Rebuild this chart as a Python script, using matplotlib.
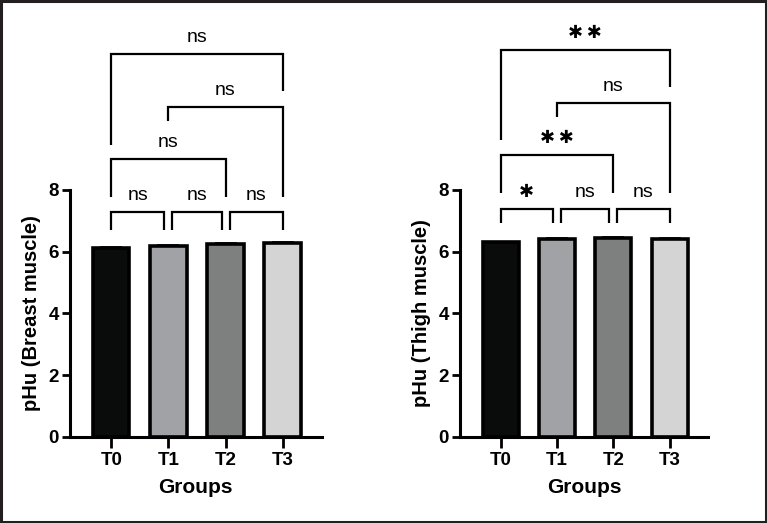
import numpy as np
import matplotlib
matplotlib.use('Agg')
import matplotlib.pyplot as plt
from matplotlib.patches import Rectangle

plt.rcParams['font.family'] = ['Liberation Sans', 'DejaVu Sans']

groups = ['T0', 'T1', 'T2', 'T3']
colors = ['#0a0c0c', '#a1a2a5', '#7e807f', '#d3d4d3']

breast_mean = [6.13, 6.18, 6.25, 6.27]
breast_err = [0.02, 0.05, 0.04, 0.04]
thigh_mean = [6.31, 6.40, 6.45, 6.42]
thigh_err = [0.01, 0.03, 0.02, 0.02]

# comparisons: (i, j, bracket y, left leg end, right leg end, label)
breast_sig = [
    (0, 1, 7.29, 6.70, 6.70, 'ns'),
    (1, 2, 7.29, 6.70, 6.70, 'ns'),
    (2, 3, 7.29, 6.70, 6.70, 'ns'),
    (0, 2, 8.99, 7.78, 7.78, 'ns'),
    (1, 3, 10.69, 10.24, 7.78, 'ns'),
    (0, 3, 12.39, 9.45, 11.20, 'ns'),
]
thigh_sig = [
    (0, 1, 7.39, 6.92, 6.92, '*'),
    (1, 2, 7.39, 6.92, 6.92, 'ns'),
    (2, 3, 7.39, 6.92, 6.92, 'ns'),
    (0, 2, 9.13, 7.89, 7.89, '**'),
    (1, 3, 10.83, 10.36, 7.89, 'ns'),
    (0, 3, 12.52, 9.61, 11.33, '**'),
]


def draw_panel(ax, means, errs, sig, ylabel):
    x = np.arange(len(groups))
    ax.bar(x, means, width=0.64, color=colors, edgecolor='black',
           linewidth=2.6, zorder=2)
    ax.errorbar(x, means, yerr=[np.zeros(len(errs)), errs], fmt='none',
                ecolor='black', elinewidth=1.2, capsize=8, capthick=1.2,
                zorder=3)
    ax.set_xlim(-0.72, 3.68)
    ax.set_ylim(0, 8)
    ax.set_yticks([0, 2, 4, 6, 8])
    ax.set_xticks(x)
    ax.set_xticklabels(groups)
    for s in ['top', 'right']:
        ax.spines[s].set_visible(False)
    for s in ['left', 'bottom']:
        ax.spines[s].set_linewidth(2.2)
    ax.tick_params(axis='both', width=2.0, length=6, labelsize=13.5)
    ax.tick_params(axis='y', pad=2)
    ax.tick_params(axis='x', length=8, pad=3)
    for lab in ax.get_xticklabels() + ax.get_yticklabels():
        lab.set_fontweight('bold')
    ax.set_xlabel('Groups', fontsize=15, fontweight='bold', labelpad=6)
    ax.set_ylabel(ylabel, fontsize=14.5, fontweight='bold', labelpad=5)

    gap = 0.07
    for i, j, y, yl, yr, lab in sig:
        x0, x1 = float(i), float(j)
        if j - i == 1:
            if i > 0:
                x0 += gap
            if j < 3:
                x1 -= gap
        ax.plot([x0, x0, x1, x1], [yl, y, y, yr], color='black',
                linewidth=1.6, clip_on=False, solid_capstyle='butt',
                solid_joinstyle='miter', zorder=4)
        xm = (x0 + x1) / 2
        if '*' in lab:
            star = '\u2009'.join(['\u2731'] * len(lab))
            ax.text(xm, y + 0.55, star, ha='center', va='center',
                    fontsize=13, family='DejaVu Sans', clip_on=False)
        else:
            ax.text(xm, y + 0.39, lab, ha='center', va='baseline',
                    fontsize=14, clip_on=False)


fig = plt.figure(figsize=(7.67, 5.23), dpi=100)
ax1 = fig.add_axes([0.0913, 0.1645, 0.328, 0.4723])
ax2 = fig.add_axes([0.5997, 0.1645, 0.3233, 0.4723])
draw_panel(ax1, breast_mean, breast_err, breast_sig, 'pHu (Breast muscle)')
draw_panel(ax2, thigh_mean, thigh_err, thigh_sig, 'pHu (Thigh muscle)')

fig.patches.append(Rectangle((0.0015, 0.002), 0.997, 0.996,
                             transform=fig.transFigure, fill=False,
                             edgecolor='#231f20', linewidth=2.2))

fig.savefig('out.png', dpi=100)
